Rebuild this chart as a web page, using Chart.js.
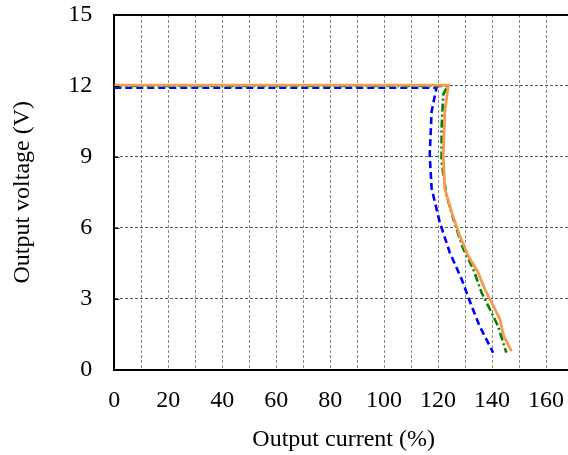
<!DOCTYPE html>
<html>
<head>
<meta charset="utf-8">
<script src="https://cdn.jsdelivr.net/npm/chart.js@4/dist/chart.umd.min.js"></script>
<style>
  html, body { margin: 0; padding: 0; background: #fff; overflow: hidden; width: 568px; height: 455px; }
  canvas { display: block; }
</style>
</head>
<body>
<canvas id="c" width="600" height="455"></canvas>
<script>
// Series A (blue dashed)
const currentBlue = [0, 119.4, 117.6, 116.9, 117.6, 120.6, 124.3, 128.7, 132.4, 135.4, 140.4];
const voltageBlue = [11.92, 11.92, 10.92, 9.08, 7.66, 6.24, 4.96, 3.83, 2.69, 1.84, 0.71];
// Series B (green dash-dot)
const currentGreen = [0, 123.5, 121.9, 121.3, 121.3, 123.1, 125.6, 129.3, 133.0, 136.1, 139.2, 142.2, 145.3];
const voltageGreen = [12.0, 12.0, 11.63, 10.21, 8.79, 7.38, 6.38, 5.11, 4.26, 3.26, 2.55, 1.84, 0.71];
// Series C (orange solid)
const currentOrange = [0, 123.8, 122.5, 121.9, 122.5, 125.0, 128.0, 131.1, 134.8, 137.3, 139.8, 142.9, 144.3, 147.2];
const voltageOrange = [12.03, 12.03, 10.92, 9.08, 7.66, 6.67, 5.67, 4.82, 4.11, 3.40, 2.84, 2.13, 1.42, 0.78];

const xTickLabels = [0, 20, 40, 60, 80, 100, 120, 140, 160];
const yTickLabels = [0, 3, 6, 9, 12, 15];

const toPts = (xs, ys) => xs.map((x, i) => ({ x: x, y: ys[i] }));
const FONT = 'Liberation Serif, Times New Roman, serif';

const innerTicks = {
  id: 'innerTicks',
  afterDraw(chart) {
    const ctx = chart.ctx, y = chart.scales.y, left = chart.chartArea.left;
    ctx.save();
    ctx.strokeStyle = '#000';
    ctx.lineWidth = 1;
    y.ticks.forEach(t => {
      if (t.value === 0 || t.value === 15) return;
      const py = Math.round(y.getPixelForValue(t.value)) + 0.5;
      ctx.beginPath();
      ctx.moveTo(left, py);
      ctx.lineTo(left + 5, py);
      ctx.stroke();
    });
    ctx.restore();
  }
};

new Chart(document.getElementById('c'), {
  type: 'scatter',
  data: {
    datasets: [
      { label: 'C', data: toPts(currentOrange, voltageOrange), showLine: true, borderColor: '#f59a50', borderWidth: 2.8, pointRadius: 0, tension: 0 },
      { label: 'B', data: toPts(currentGreen, voltageGreen), showLine: true, borderColor: '#008000', borderWidth: 2.6, borderDash: [8, 3, 2, 3], pointRadius: 0, tension: 0 },
      { label: 'A', data: toPts(currentBlue, voltageBlue), showLine: true, borderColor: '#0000ff', borderWidth: 2.6, borderDash: [7, 4], pointRadius: 0, tension: 0 }
    ]
  },
  options: {
    responsive: false,
    animation: false,
    layout: { padding: { top: 15, right: 27, left: 0, bottom: 0 } },
    plugins: { legend: { display: false }, tooltip: { enabled: false } },
    scales: {
      x: {
        type: 'linear', min: 0, max: 170,
        afterFit: (s) => { s.height = 85.5; s.paddingLeft = 0; s.paddingRight = 0; },
        ticks: {
          stepSize: 10, autoSkip: false, maxRotation: 0, padding: 17,
          color: '#000', font: { family: FONT, size: 24 },
          callback: (v) => xTickLabels.includes(v) ? String(v) : ''
        },
        grid: { color: '#8a8a8a', lineWidth: 1, drawTicks: false },
        border: { color: '#000', width: 2, dash: [3, 2] },
        title: { display: true, text: 'Output current (%)', color: '#000', font: { family: FONT, size: 24 }, padding: { top: 0, bottom: 1 } }
      },
      xTop: {
        type: 'linear', position: 'top', min: 0, max: 170,
        afterFit: (s) => { s.height = 0; s.paddingLeft = 0; s.paddingRight = 0; },
        ticks: { display: false },
        grid: { display: false, drawTicks: false },
        border: { color: '#000', width: 2 }
      },
      y: {
        type: 'linear', min: 0, max: 15,
        afterFit: (s) => { s.width = 114.3; s.paddingTop = 0; s.paddingBottom = 0; },
        ticks: {
          stepSize: 3, padding: 22, color: '#000', font: { family: FONT, size: 24 },
          callback: (v) => yTickLabels.includes(v) ? String(v) : ''
        },
        grid: { color: '#5a5a5a', lineWidth: 1, drawTicks: false },
        border: { color: '#000', width: 2, dash: [3, 2] },
        title: { display: true, text: 'Output voltage (V)', color: '#000', font: { family: FONT, size: 24 }, padding: { top: 8, bottom: 0 } }
      }
    }
  },
  plugins: [innerTicks]
});
</script>
</body>
</html>
